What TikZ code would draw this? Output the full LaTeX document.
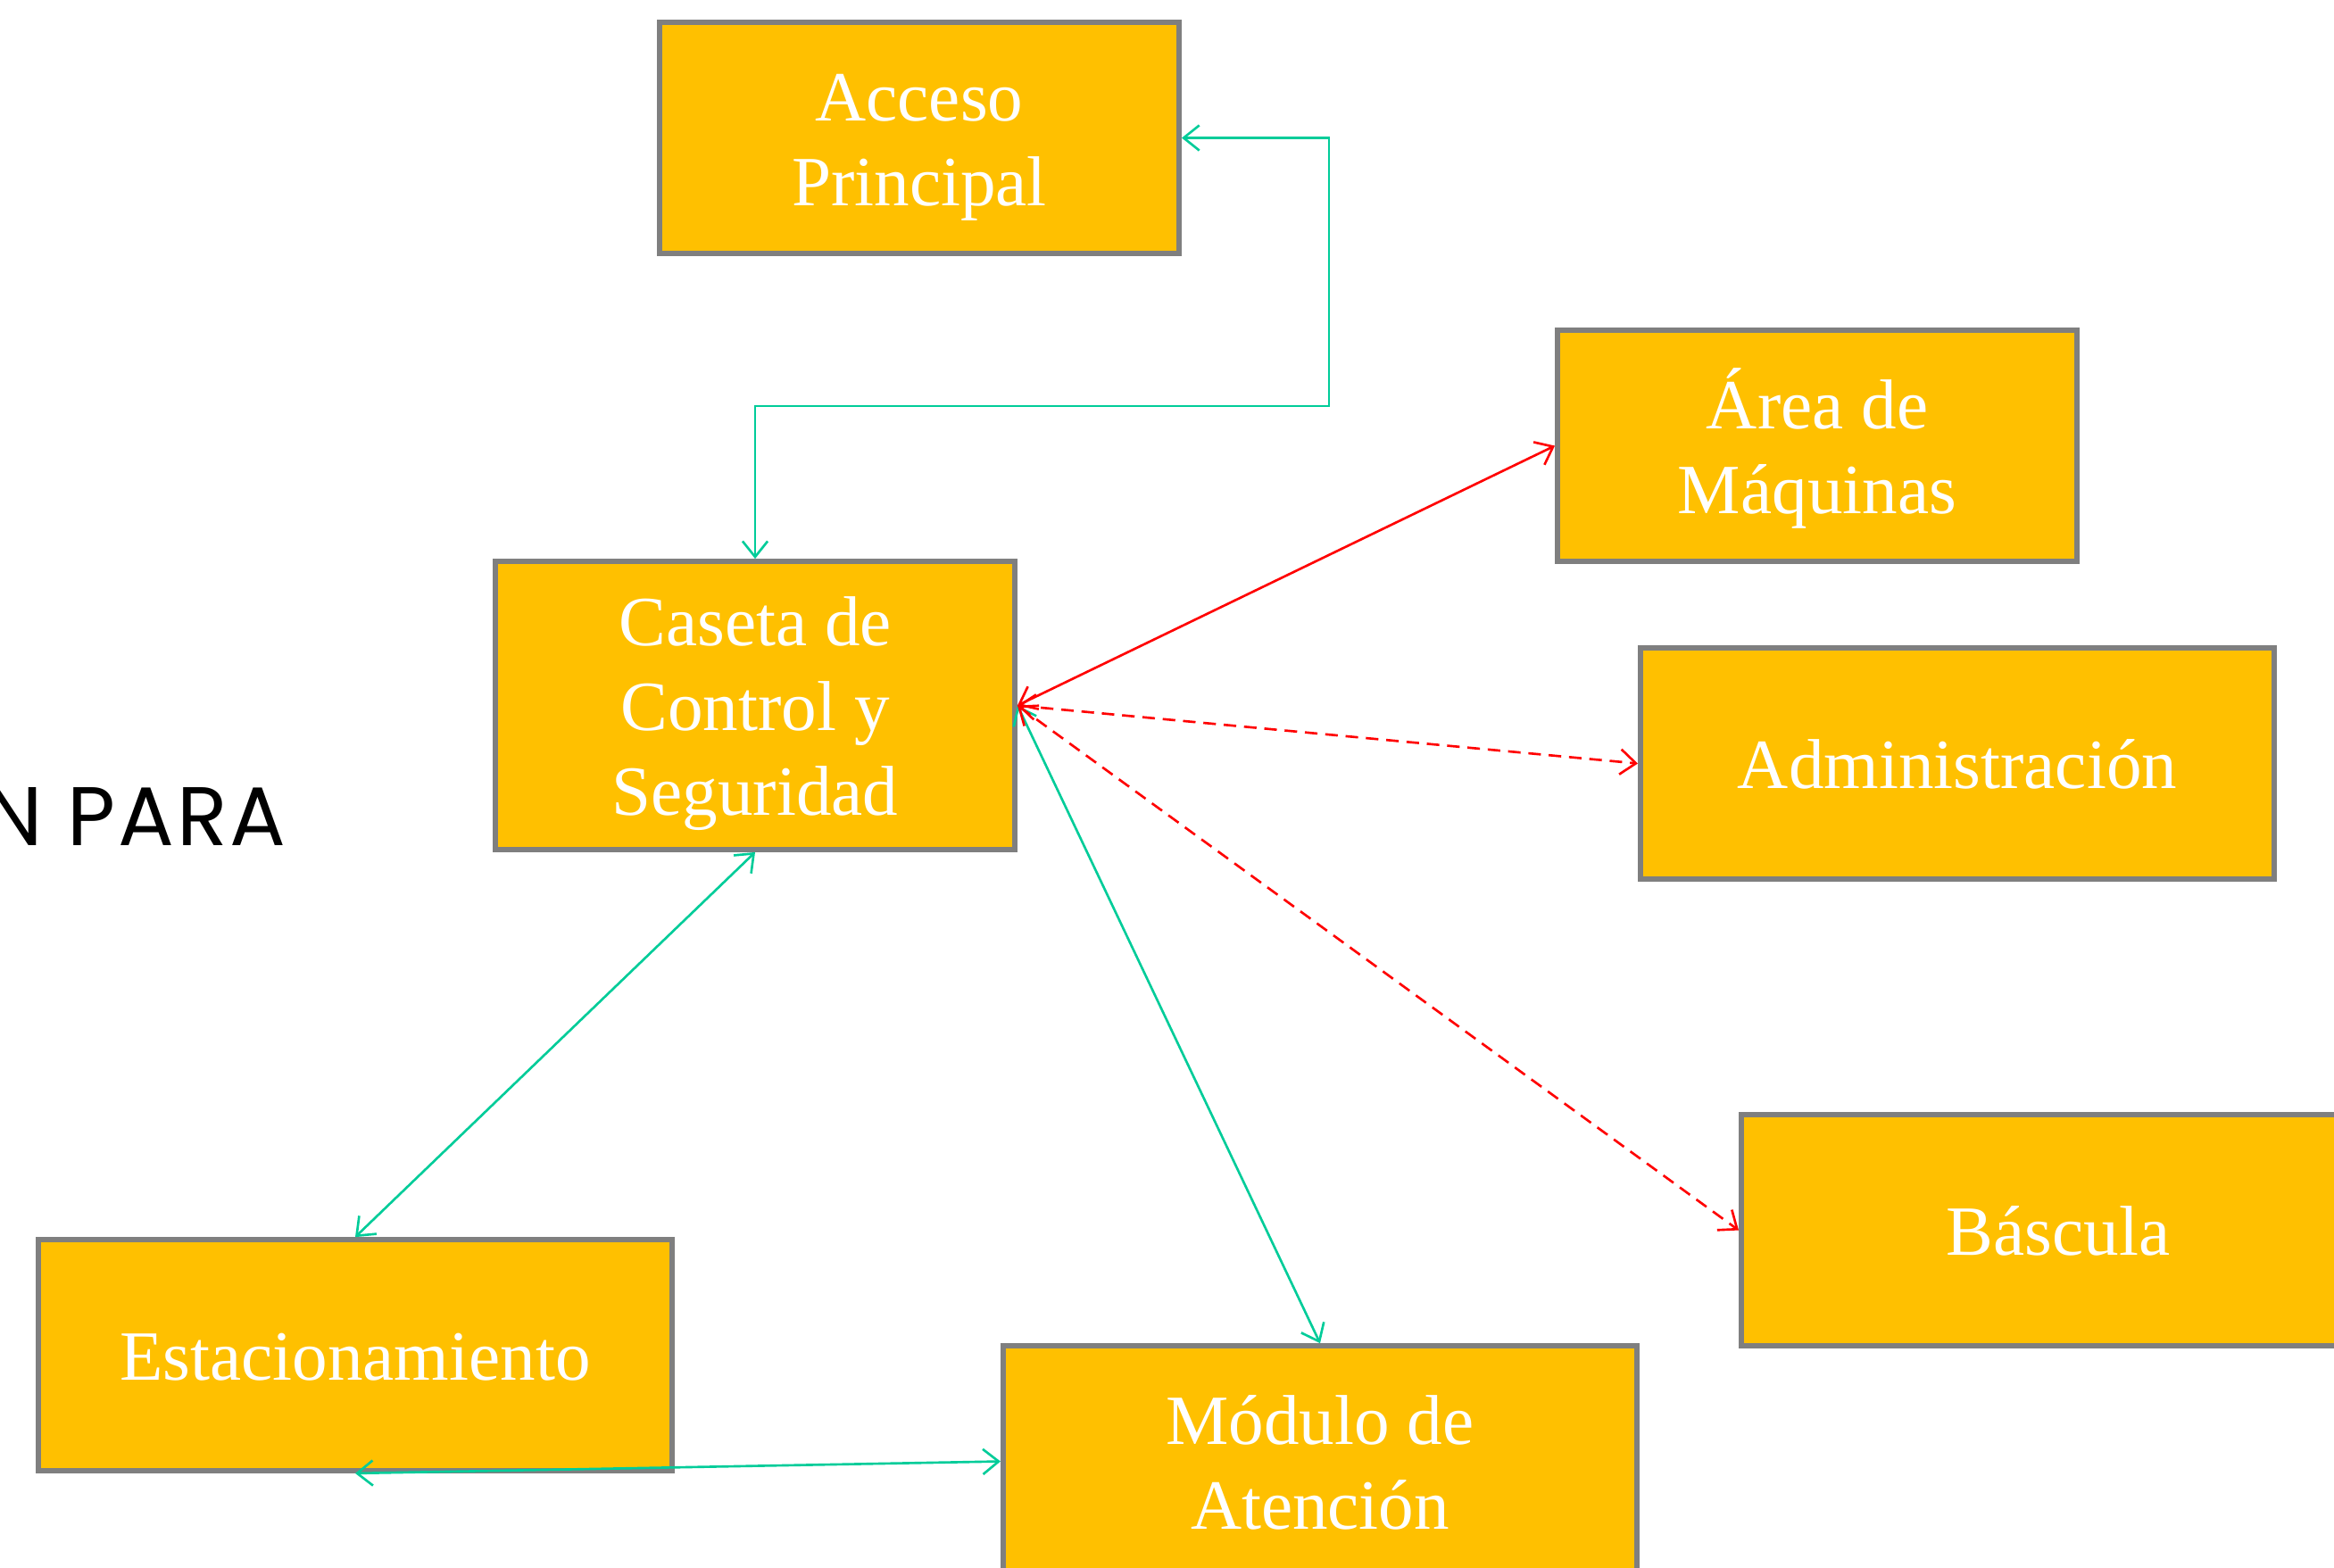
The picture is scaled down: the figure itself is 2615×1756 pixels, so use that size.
\documentclass[tikz,border=0pt]{standalone}
\usepackage{fontspec}
\usepackage{xcolor}
\usepackage{tikz}
\usetikzlibrary{positioning,calc,arrows.meta}
\newfontfamily\boxfont{Liberation Serif}
\newfontfamily\titlefont[LetterSpace=3]{Poppins}
\definecolor{oro}{HTML}{FFC000}
\definecolor{borde}{HTML}{7F7F7F}
\definecolor{verde}{HTML}{00CC99}
\definecolor{rojo}{HTML}{FF0000}
\newcommand\renglon{\rule[-5.5pt]{0pt}{27pt}}
\tikzset{area/.style={draw=borde,line width=1.6pt,fill=oro,text=white,align=center,
    minimum width=5.82cm,minimum height=2.59cm,inner sep=0pt,
    font={\boxfont\fontsize{22.5pt}{27pt}\selectfont}}}
\tikzset{ancha/.style={area,minimum width=7.1cm}}
\tikzset{flujo/.style={<->,line width=0.75pt,>={Straight Barb[length=5pt,width=8pt]}}}

\begin{document}
\begin{tikzpicture}[x=0.01cm,y=-0.01cm]
  \useasboundingbox (0,0) rectangle (2615,1756);
  \clip (0,0) rectangle (2615,1756);
  \node[anchor=base east,font={\titlefont\fontsize{26.5pt}{30pt}\selectfont}] (titulo) at (333,947) {N PARA};

  \node[area] (acceso) at (1030,154.5) {\renglon Acceso\\\renglon Principal};
  \node[area,minimum height=3.23cm] (caseta) at (846,790.5) {\renglon Caseta de\\\renglon Control y\\\renglon Seguridad};
  \node[area] (maquinas) at (2036,499.5) {\renglon Área de\\\renglon Máquinas};
  \node[ancha] (admin) at (2193,855.5) {\renglon Administración};
  \node[ancha] (bascula) at (2306,1378.5) {\renglon Báscula};
  \node[ancha] (estac) at (398,1518.5) {\renglon Estacionamiento};
  \node[ancha] (modulo) at (1479,1637.5) {\renglon Módulo de\\\renglon Atención};

  \coordinate (giro) at (1489,455);
  \draw[flujo,verde] (acceso.east) -| (giro) -| (caseta.north);
  \draw[flujo,verde] (caseta.south) -- (estac.north);
  \draw[flujo,verde] (caseta.east) -- (modulo.north);
  \draw[flujo,verde] (estac.south) -- (modulo.west);

  \draw[flujo,rojo] (caseta.east) -- (maquinas.west);
  \draw[flujo,rojo,dash pattern=on 4pt off 2.5pt] (caseta.east) -- (admin.west);
  \draw[flujo,rojo,dash pattern=on 4pt off 2.5pt] (caseta.east) -- (bascula.west);
\end{tikzpicture}
\end{document}
